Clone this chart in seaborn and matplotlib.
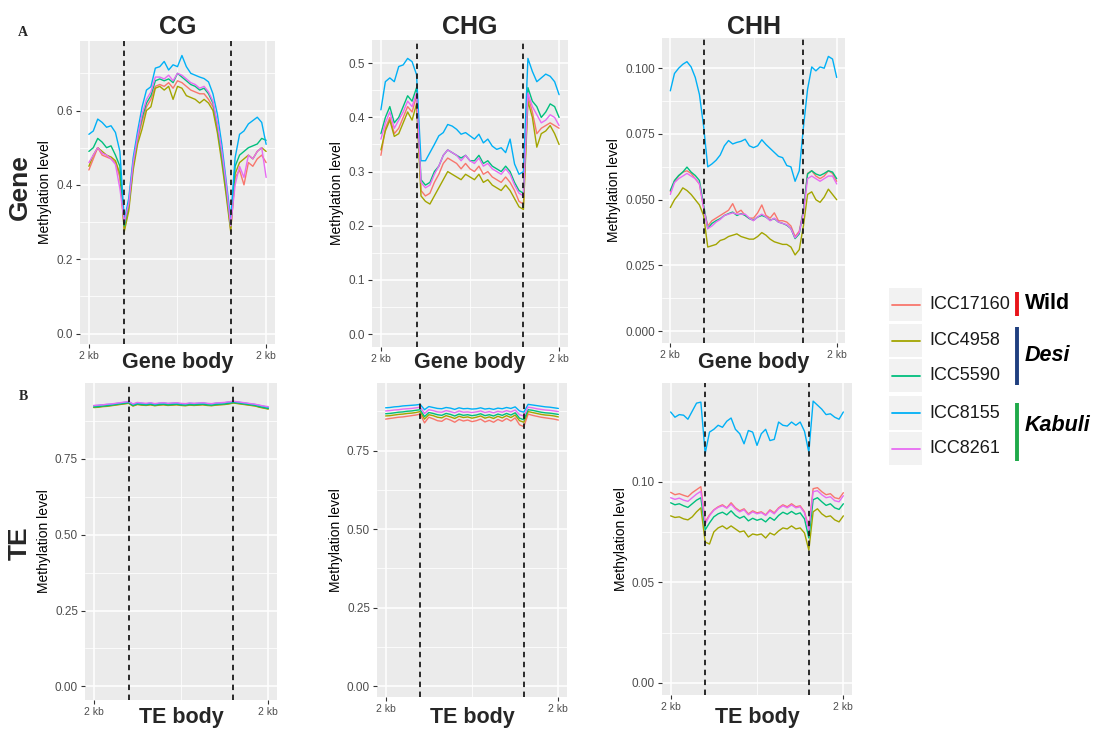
import numpy as np
import pandas as pd
import matplotlib
matplotlib.use("Agg")
import matplotlib.pyplot as plt
import seaborn as sns
from matplotlib.patches import Rectangle
from matplotlib.lines import Line2D

# ---------------- data ----------------
samples = ["ICC17160", "ICC4958", "ICC5590", "ICC8155", "ICC8261"]
colors = ["#F8766D", "#A3A500", "#00BF7D", "#00B0F6", "#E76BF3"]
groups = ["Wild", "Desi", "Kabuli"]
group_colors = ["#E8141A", "#1F3F7F", "#1FAA4A"]
contexts = ["CG", "CHG", "CHH"]
regions = ["Gene", "TE"]
bins = np.linspace(0, 100, 41)   # 2 kb upstream | body | 2 kb downstream (bins)
tick_labels = ["2 kb", "2 kb"]

# Gene, CG
gene_cg_icc17160 = [0.440,0.470,0.500,0.480,0.475,0.470,0.460,0.420,0.280,0.340,0.450,0.520,0.570,0.610,0.630,0.665,0.670,0.665,0.675,0.660,0.680,0.675,0.665,0.655,0.650,0.645,0.645,0.630,0.610,0.550,0.470,0.380,0.280,0.420,0.440,0.400,0.460,0.450,0.470,0.480,0.460]
gene_cg_icc4958 = [0.450,0.480,0.500,0.490,0.480,0.475,0.465,0.430,0.275,0.330,0.440,0.510,0.550,0.600,0.610,0.660,0.665,0.655,0.665,0.630,0.665,0.660,0.640,0.635,0.630,0.620,0.630,0.620,0.600,0.540,0.460,0.370,0.275,0.430,0.460,0.470,0.480,0.470,0.490,0.500,0.490]
gene_cg_icc5590 = [0.490,0.500,0.525,0.515,0.500,0.505,0.480,0.450,0.290,0.350,0.460,0.530,0.580,0.620,0.640,0.680,0.685,0.680,0.685,0.675,0.700,0.690,0.680,0.670,0.665,0.655,0.660,0.645,0.620,0.560,0.480,0.390,0.290,0.450,0.480,0.490,0.500,0.505,0.510,0.525,0.520]
gene_cg_icc8155 = [0.536,0.545,0.577,0.568,0.555,0.559,0.541,0.490,0.305,0.364,0.473,0.545,0.609,0.655,0.664,0.714,0.718,0.732,0.709,0.723,0.718,0.748,0.718,0.700,0.695,0.690,0.686,0.677,0.645,0.590,0.509,0.409,0.309,0.473,0.536,0.545,0.564,0.573,0.582,0.568,0.509]
gene_cg_icc8261 = [0.460,0.480,0.500,0.485,0.480,0.470,0.455,0.390,0.300,0.350,0.460,0.530,0.590,0.630,0.650,0.690,0.690,0.685,0.695,0.680,0.700,0.695,0.685,0.675,0.670,0.660,0.665,0.650,0.625,0.565,0.490,0.400,0.290,0.400,0.450,0.420,0.480,0.470,0.490,0.500,0.420]

# Gene, CHG
gene_chg_icc17160 = [0.330,0.380,0.400,0.370,0.380,0.400,0.420,0.410,0.440, 0.265,0.255,0.260,0.280,0.295,0.315,0.325,0.320,0.315,0.305,0.315,0.305,0.300,0.310,0.295,0.300,0.290,0.285,0.280,0.290,0.280,0.265,0.245,0.240, 0.440,0.410,0.370,0.380,0.385,0.390,0.385,0.380]
gene_chg_icc4958 = [0.340,0.375,0.395,0.365,0.370,0.390,0.410,0.395,0.425, 0.255,0.245,0.240,0.255,0.270,0.285,0.300,0.295,0.290,0.285,0.295,0.290,0.285,0.295,0.280,0.285,0.275,0.270,0.265,0.275,0.265,0.250,0.235,0.230, 0.430,0.400,0.345,0.370,0.375,0.385,0.370,0.350]
gene_chg_icc5590 = [0.370,0.400,0.420,0.390,0.400,0.420,0.440,0.430,0.455, 0.285,0.275,0.280,0.300,0.310,0.330,0.340,0.335,0.330,0.325,0.330,0.320,0.320,0.330,0.315,0.320,0.310,0.305,0.300,0.310,0.300,0.280,0.265,0.260, 0.455,0.430,0.420,0.400,0.410,0.425,0.420,0.400]
gene_chg_icc8155 = [0.414,0.466,0.473,0.466,0.494,0.497,0.509,0.503,0.479, 0.320,0.320,0.335,0.350,0.366,0.372,0.387,0.384,0.378,0.369,0.372,0.366,0.360,0.369,0.353,0.360,0.347,0.341,0.344,0.335,0.360,0.314,0.295,0.300, 0.509,0.485,0.466,0.473,0.480,0.476,0.466,0.442]
gene_chg_icc8261 = [0.360,0.390,0.410,0.380,0.395,0.410,0.430,0.420,0.445, 0.280,0.270,0.275,0.295,0.310,0.330,0.340,0.335,0.330,0.320,0.330,0.320,0.315,0.325,0.310,0.315,0.305,0.300,0.295,0.305,0.295,0.275,0.260,0.255, 0.445,0.420,0.405,0.390,0.395,0.405,0.400,0.385]

# Gene, CHH
gene_chh_icc17160 = [0.053,0.057,0.059,0.0605,0.061,0.060,0.058,0.056,0.047, 0.040,0.042,0.043,0.044,0.045,0.046,0.0485,0.045,0.046,0.044,0.043,0.043,0.045,0.048,0.044,0.043,0.045,0.042,0.042,0.0415,0.040,0.036,0.038,0.046, 0.060,0.061,0.059,0.058,0.059,0.061,0.060,0.057]
gene_chh_icc4958 = [0.047,0.050,0.052,0.0545,0.0535,0.052,0.050,0.048,0.044, 0.032,0.0325,0.033,0.0345,0.035,0.036,0.0365,0.037,0.036,0.0355,0.035,0.035,0.036,0.0375,0.0365,0.035,0.034,0.0335,0.033,0.033,0.032,0.029,0.031,0.040, 0.052,0.053,0.050,0.049,0.051,0.054,0.052,0.050]
gene_chh_icc5590 = [0.0535,0.0573,0.0592,0.0605,0.0624,0.0605,0.0592,0.0573,0.048, 0.039,0.041,0.042,0.0428,0.044,0.0447,0.0453,0.044,0.0447,0.044,0.0428,0.0422,0.0434,0.044,0.0434,0.0422,0.0428,0.0415,0.041,0.0403,0.039,0.0352,0.037,0.046, 0.0598,0.061,0.0598,0.0592,0.060,0.061,0.0605,0.058]
gene_chh_icc8155 = [0.0914,0.098,0.100,0.1015,0.1025,0.1005,0.0965,0.090,0.078, 0.0625,0.0636,0.065,0.067,0.0705,0.0725,0.0712,0.0718,0.0722,0.073,0.0705,0.0698,0.0705,0.0728,0.071,0.0695,0.068,0.0665,0.066,0.063,0.0625,0.057,0.061,0.0775, 0.092,0.1005,0.099,0.1005,0.100,0.1045,0.1035,0.0965]
gene_chh_icc8261 = [0.052,0.0565,0.058,0.059,0.060,0.059,0.058,0.056,0.047, 0.039,0.040,0.0415,0.0425,0.044,0.0445,0.045,0.0445,0.0445,0.0445,0.043,0.042,0.0435,0.0445,0.0435,0.042,0.043,0.0415,0.041,0.0405,0.039,0.0355,0.0375,0.045, 0.058,0.059,0.058,0.057,0.058,0.059,0.059,0.056]

# TE, CG
te_cg_icc17160 = [0.920,0.921,0.923,0.924,0.926,0.928,0.930,0.932,0.934, 0.925,0.930,0.928,0.927,0.929,0.926,0.928,0.929,0.927,0.928,0.929,0.927,0.926,0.928,0.927,0.928,0.929,0.927,0.926,0.928,0.929,0.930,0.932,0.935, 0.933,0.931,0.929,0.927,0.925,0.921,0.918,0.915]
te_cg_icc4958 = [0.919,0.920,0.922,0.923,0.925,0.927,0.929,0.931,0.933, 0.924,0.929,0.927,0.926,0.928,0.925,0.927,0.928,0.926,0.927,0.928,0.926,0.925,0.927,0.926,0.927,0.928,0.926,0.925,0.927,0.928,0.929,0.931,0.934, 0.932,0.930,0.928,0.926,0.924,0.920,0.917,0.914]
te_cg_icc5590 = [0.921,0.922,0.924,0.925,0.927,0.929,0.931,0.933,0.935, 0.926,0.931,0.929,0.928,0.930,0.927,0.929,0.930,0.928,0.929,0.930,0.928,0.927,0.929,0.928,0.929,0.930,0.928,0.927,0.929,0.930,0.931,0.933,0.936, 0.934,0.932,0.930,0.928,0.926,0.922,0.919,0.916]
te_cg_icc8155 = [0.925,0.926,0.928,0.929,0.930,0.932,0.934,0.936,0.938, 0.930,0.934,0.933,0.931,0.934,0.930,0.933,0.934,0.932,0.933,0.934,0.931,0.931,0.933,0.932,0.933,0.934,0.932,0.931,0.933,0.934,0.935,0.937,0.939, 0.937,0.935,0.933,0.931,0.929,0.926,0.923,0.920]
te_cg_icc8261 = [0.926,0.927,0.928,0.930,0.931,0.933,0.935,0.937,0.939, 0.931,0.936,0.934,0.933,0.935,0.932,0.934,0.935,0.933,0.934,0.935,0.933,0.932,0.934,0.933,0.934,0.935,0.933,0.932,0.934,0.935,0.936,0.938,0.940, 0.938,0.936,0.934,0.932,0.930,0.927,0.924,0.922]

# TE, CHG
te_chg_icc17160 = [0.850,0.852,0.854,0.856,0.857,0.859,0.861,0.863,0.866, 0.838,0.856,0.851,0.845,0.843,0.852,0.847,0.840,0.849,0.844,0.847,0.842,0.845,0.850,0.841,0.846,0.840,0.849,0.843,0.852,0.844,0.854,0.832,0.826, 0.866,0.862,0.859,0.856,0.854,0.852,0.850,0.847]
te_chg_icc4958 = [0.860,0.861,0.863,0.865,0.866,0.868,0.869,0.871,0.874, 0.850,0.864,0.861,0.856,0.854,0.861,0.857,0.852,0.859,0.855,0.857,0.853,0.856,0.860,0.853,0.857,0.852,0.859,0.854,0.861,0.855,0.863,0.845,0.840, 0.874,0.871,0.868,0.865,0.863,0.862,0.860,0.857]
te_chg_icc5590 = [0.867,0.868,0.870,0.872,0.873,0.875,0.876,0.878,0.880, 0.858,0.871,0.868,0.864,0.862,0.868,0.865,0.860,0.866,0.862,0.864,0.861,0.863,0.867,0.861,0.864,0.860,0.866,0.862,0.868,0.863,0.870,0.853,0.848, 0.880,0.878,0.875,0.872,0.870,0.869,0.867,0.865]
te_chg_icc8155 = [0.886,0.887,0.889,0.890,0.892,0.893,0.894,0.895,0.897, 0.880,0.890,0.887,0.884,0.883,0.887,0.885,0.881,0.886,0.883,0.884,0.882,0.883,0.886,0.882,0.884,0.881,0.885,0.883,0.887,0.884,0.889,0.876,0.872, 0.897,0.895,0.893,0.891,0.889,0.888,0.886,0.884]
te_chg_icc8261 = [0.876,0.877,0.879,0.880,0.882,0.883,0.884,0.886,0.888, 0.868,0.880,0.877,0.873,0.872,0.877,0.874,0.870,0.876,0.872,0.873,0.871,0.873,0.876,0.871,0.874,0.870,0.875,0.872,0.877,0.873,0.879,0.864,0.860, 0.888,0.886,0.883,0.881,0.879,0.878,0.876,0.874]

# TE, CHH
te_chh_icc17160 = [0.0947,0.0935,0.0940,0.0932,0.0925,0.0945,0.0960,0.0975,0.0800, 0.0835,0.0860,0.0875,0.0885,0.0870,0.0895,0.0870,0.0855,0.0865,0.0840,0.0855,0.0845,0.0850,0.0835,0.0860,0.0845,0.0870,0.0885,0.0875,0.0890,0.0875,0.0880,0.0850,0.0770, 0.0965,0.0970,0.0950,0.0935,0.0940,0.0920,0.0915,0.0945]
te_chh_icc4958 = [0.0830,0.0822,0.0825,0.0815,0.0810,0.0825,0.0850,0.0870,0.0700, 0.0690,0.0750,0.0770,0.0780,0.0765,0.0780,0.0765,0.0750,0.0755,0.0725,0.0740,0.0735,0.0740,0.0720,0.0745,0.0735,0.0755,0.0770,0.0765,0.0780,0.0765,0.0770,0.0745,0.0660, 0.0850,0.0865,0.0840,0.0825,0.0830,0.0810,0.0800,0.0830]
te_chh_icc5590 = [0.0895,0.0885,0.0890,0.0880,0.0872,0.0890,0.0908,0.0920,0.0760, 0.0795,0.0825,0.0840,0.0848,0.0835,0.0855,0.0832,0.0818,0.0828,0.0805,0.0818,0.0808,0.0815,0.0800,0.0822,0.0808,0.0832,0.0848,0.0838,0.0852,0.0838,0.0845,0.0815,0.0720, 0.0910,0.0920,0.0900,0.0882,0.0890,0.0870,0.0862,0.0890]
te_chh_icc8155 = [0.1346,0.1320,0.1333,0.1330,0.1310,0.1350,0.1390,0.1395,0.1140, 0.1246,0.1260,0.1280,0.1270,0.1300,0.1316,0.1260,0.1238,0.1188,0.1254,0.1246,0.1180,0.1238,0.1260,0.1204,0.1210,0.1296,0.1280,0.1276,0.1296,0.1280,0.1296,0.1250,0.1146, 0.1400,0.1380,0.1360,0.1333,0.1337,0.1320,0.1310,0.1346]
te_chh_icc8261 = [0.0920,0.0912,0.0918,0.0908,0.0902,0.0920,0.0938,0.0952,0.0790, 0.0830,0.0858,0.0872,0.0880,0.0868,0.0888,0.0865,0.0850,0.0860,0.0835,0.0850,0.0840,0.0846,0.0832,0.0855,0.0840,0.0866,0.0880,0.0870,0.0884,0.0870,0.0875,0.0845,0.0760, 0.0950,0.0955,0.0935,0.0920,0.0925,0.0905,0.0900,0.0930]

panel_data = {
    ("Gene", "CG"): [gene_cg_icc17160, gene_cg_icc4958, gene_cg_icc5590, gene_cg_icc8155, gene_cg_icc8261],
    ("Gene", "CHG"): [gene_chg_icc17160, gene_chg_icc4958, gene_chg_icc5590, gene_chg_icc8155, gene_chg_icc8261],
    ("Gene", "CHH"): [gene_chh_icc17160, gene_chh_icc4958, gene_chh_icc5590, gene_chh_icc8155, gene_chh_icc8261],
    ("TE", "CG"): [te_cg_icc17160, te_cg_icc4958, te_cg_icc5590, te_cg_icc8155, te_cg_icc8261],
    ("TE", "CHG"): [te_chg_icc17160, te_chg_icc4958, te_chg_icc5590, te_chg_icc8155, te_chg_icc8261],
    ("TE", "CHH"): [te_chh_icc17160, te_chh_icc4958, te_chh_icc5590, te_chh_icc8155, te_chh_icc8261],
}

# ---------------- style ----------------
sns.set_theme(style="darkgrid")
plt.rcParams["font.family"] = ["Liberation Sans", "DejaVu Sans"]

W, H = 1097, 729
fig = plt.figure(figsize=(W / 100, H / 100), dpi=100)
fig.patch.set_facecolor("white")


def px_axes(x0, y0, x1, y1):
    return fig.add_axes([x0 / W, 1 - y1 / H, (x1 - x0) / W, (y1 - y0) / H])


def fig_text(x, y, s, **kw):
    fig.text(x / W, 1 - y / H, s, **kw)


layout = {
    ("Gene", "CG"): dict(rect=(80, 41, 275, 344), ylim=(-0.028, 0.787),
                         major=[0, 0.2, 0.4, 0.6], fmt="{:.1f}", minor=[0.1, 0.3, 0.5, 0.7]),
    ("Gene", "CHG"): dict(rect=(372, 40, 568, 347), ylim=(-0.024, 0.543),
                          major=[0, 0.1, 0.2, 0.3, 0.4, 0.5], fmt="{:.1f}",
                          minor=[0.05, 0.15, 0.25, 0.35, 0.45]),
    ("Gene", "CHH"): dict(rect=(662, 38, 845, 343), ylim=(-0.0045, 0.1115),
                          major=[0, 0.025, 0.05, 0.075, 0.1], fmt="{:.3f}",
                          minor=[0.0125, 0.0375, 0.0625, 0.0875]),
    ("TE", "CG"): dict(rect=(85, 383, 277, 700), ylim=(-0.045, 1.0),
                       major=[0, 0.25, 0.5, 0.75], fmt="{:.2f}", minor=[0.125, 0.375, 0.625, 0.875]),
    ("TE", "CHG"): dict(rect=(377, 383, 567, 697), ylim=(-0.035, 0.965),
                        major=[0, 0.25, 0.5, 0.75], fmt="{:.2f}", minor=[0.125, 0.375, 0.625, 0.875]),
    ("TE", "CHH"): dict(rect=(662, 383, 852, 695), ylim=(-0.006, 0.149),
                        major=[0, 0.05, 0.1], fmt="{:.2f}", minor=[0.025, 0.075, 0.125]),
}

for (region, ctx), spec in layout.items():
    ax = px_axes(*spec["rect"])
    ax.set_facecolor("#EBEBEB")
    rows = []
    for s, vals in zip(samples, panel_data[(region, ctx)]):
        for p, v in zip(bins, vals):
            rows.append((p, v, s))
    df = pd.DataFrame(rows, columns=["pos", "level", "sample"])
    sns.lineplot(data=df, x="pos", y="level", hue="sample", hue_order=samples,
                 palette=colors, ax=ax, legend=False, linewidth=1.0,
                 estimator=None, sort=False)
    ax.set_xlim(-5, 105)
    ax.set_ylim(*spec["ylim"])
    ax.set_xticks([0, 100])
    ax.set_xticklabels(tick_labels)
    ax.set_xticks([50], minor=True)
    ax.set_yticks(spec["major"])
    ax.set_yticklabels([spec["fmt"].format(v) for v in spec["major"]])
    ax.set_yticks(spec["minor"], minor=True)
    ax.grid(which="major", color="white", linewidth=1.1)
    ax.grid(which="minor", color="white", linewidth=0.55)
    ax.set_axisbelow(True)
    for sp in ax.spines.values():
        sp.set_visible(False)
    ax.tick_params(which="major", length=3, width=0.8, color="#333333",
                   labelcolor="#4D4D4D", pad=2, bottom=True, left=True)
    ax.tick_params(which="minor", length=0)
    ax.tick_params(axis="x", labelsize=7.5)
    ax.tick_params(axis="y", labelsize=8.5)
    ax.set_xlabel("")
    ax.set_ylabel("Methylation level", fontsize=10, color="black", labelpad=3)
    for xv in (20, 80):
        ax.axvline(xv, color="#1a1a1a", linestyle=(0, (3, 2.5)), linewidth=1.3, zorder=5)

    x0, y0, x1, y1 = spec["rect"]
    cx = (x0 + x1) / 2
    if region == "Gene":
        fig_text(cx, 34, ctx, fontsize=18, fontweight="bold", ha="center", va="baseline")
        fig_text(cx, 368, "Gene body", fontsize=15.5, fontweight="bold", ha="center", va="baseline")
    else:
        fig_text(cx, 723, "TE body", fontsize=15.5, fontweight="bold", ha="center", va="baseline")

# row labels and panel letters
fig_text(20, 187, regions[0], fontsize=19, fontweight="bold", rotation=90, ha="center", va="center")
fig_text(20, 543, regions[1], fontsize=19, fontweight="bold", rotation=90, ha="center", va="center")
fig_text(23, 32, "A", fontsize=10, fontweight="bold", family="Liberation Serif", ha="center", va="center")
fig_text(23, 397, "B", fontsize=10, fontweight="bold", family="Liberation Serif", ha="center", va="center")

# ---------------- legend ----------------
lax = fig.add_axes([0, 0, 1, 1], facecolor="none")
lax.set_xlim(0, W)
lax.set_ylim(H, 0)
lax.axis("off")
boxes = [(288, 321), (324, 357), (359, 392), (396, 430), (432, 465)]
for (b0, b1), s, c in zip(boxes, samples, colors):
    lax.add_patch(Rectangle((889, b0), 33, b1 - b0, facecolor="#F2F2F2", edgecolor="none"))
    yc = (b0 + b1) / 2
    lax.add_line(Line2D([892, 920], [yc, yc], color=c, linewidth=1.3))
    lax.text(929, yc, s, fontsize=13, color="#1a1a1a", ha="left", va="center")

bar_spans = [(292, 316), (327, 385), (403, 461)]
label_y = [303, 355, 425]
styles = ["normal", "italic", "italic"]
for (a, b), g, gc, ly, st in zip(bar_spans, groups, group_colors, label_y, styles):
    lax.add_line(Line2D([1017, 1017], [a, b], color=gc, linewidth=2.8, solid_capstyle="butt"))
    lax.text(1025, ly, g, fontsize=15.5, fontweight="bold", style=st, color="black",
             ha="left", va="center")

fig.savefig("out.png", dpi=100, facecolor="white")
